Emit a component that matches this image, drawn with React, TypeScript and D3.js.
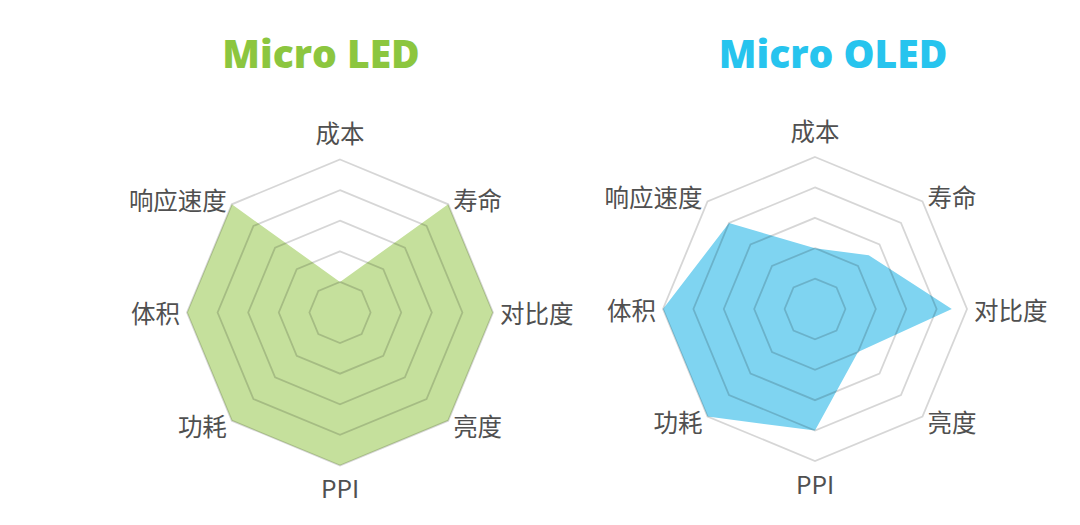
import React from "react";
import * as d3 from "d3";

const axes = ["成本", "寿命", "对比度", "亮度", "PPI", "功耗", "体积", "响应速度"];
const microLED = [0.2, 1, 1, 1, 1, 1, 1, 1];
const microOLED = [0.4, 0.5, 0.9, 0.4, 0.8, 1, 1, 0.8];
const levels = [0.2, 0.4, 0.6, 0.8, 1.0];
const titles = ["Micro LED", "Micro OLED"];

const W = 1080;
const H = 525;

type RadarProps = {
  cx: number;
  cy: number;
  R: number;
  values: number[];
  fill: string;
};

function Radar({ cx, cy, R, values, fill }: RadarProps) {
  const r = d3.scaleLinear().domain([0, 1]).range([0, R]);
  const angle = d3
    .scaleLinear()
    .domain([0, axes.length])
    .range([0, 2 * Math.PI]);
  const radial = d3
    .lineRadial<number>()
    .angle((_, i) => angle(i))
    .radius((d) => r(d))
    .curve(d3.curveLinearClosed);
  const ring = (lv: number) => radial(axes.map(() => lv)) || "";

  return (
    <g transform={`translate(${cx},${cy})`}>
      <path d={radial(values) || ""} fill={fill} stroke="none" />
      {levels.map((lv) => (
        <path
          key={lv}
          d={ring(lv)}
          fill="none"
          stroke="rgba(0,0,0,0.16)"
          strokeWidth={1.8}
        />
      ))}
      {axes.map((a, i) => {
        const t = angle(i);
        const s = Math.sin(t);
        const c = Math.cos(t);
        const lr = R + 7;
        let x = lr * s;
        let y = -lr * c;
        let anchor: "start" | "middle" | "end" = "middle";
        if (s > 0.01) anchor = "start";
        else if (s < -0.01) anchor = "end";
        if (Math.abs(s) < 0.01) {
          y += c > 0 ? -20 : 15;
        }
        return (
          <text
            key={a}
            x={x}
            y={y}
            textAnchor={anchor}
            dominantBaseline="central"
            fontFamily="'Noto Sans CJK SC', 'Noto Sans', sans-serif"
            fontSize={24.5}
            fill="#505050"
          >
            {a}
          </text>
        );
      })}
    </g>
  );
}

export default function App() {
  return (
    <svg
      width={W}
      height={H}
      viewBox={`0 0 ${W} ${H}`}
      style={{ position: "absolute", left: 0, top: 0, background: "#fff" }}
    >
      <rect width={W} height={H} fill="#fff" />
      <text
        x={321}
        y={68}
        textAnchor="middle"
        fontFamily="'Open Sans', sans-serif"
        fontWeight={800}
        fontSize={39}
        fill="#8cc63f"
      >
        {titles[0]}
      </text>
      <text
        x={833}
        y={68}
        textAnchor="middle"
        fontFamily="'Open Sans', sans-serif"
        fontWeight={800}
        fontSize={39}
        fill="#27c4ee"
      >
        {titles[1]}
      </text>
      <Radar cx={340} cy={312.5} R={153} values={microLED} fill="#c5e09c" />
      <Radar cx={815} cy={309} R={152} values={microOLED} fill="#7fd4f1" />
    </svg>
  );
}
